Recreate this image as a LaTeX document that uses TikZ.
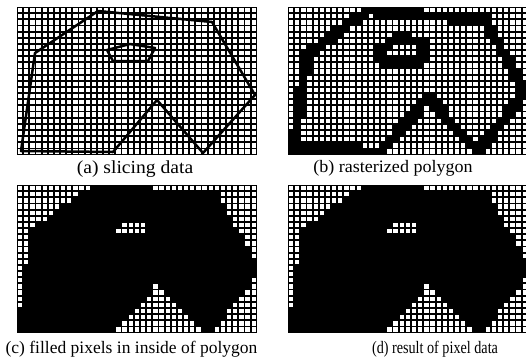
\documentclass[tikz,border=0pt]{standalone}
\usepackage{graphicx}
\usepackage{fontspec}
\setmainfont{Liberation Serif}
\def\pitch{6.15}
\def\offs{0.93}
\def\wsz{4.3}
\def\thr{0.4225}
\def\thrin{1.1025}
\def\rasteredges{13.2/0.35/32.3/2.0,32.3/2.0/38.8/13.9,38.8/13.9/30.9/23.8,30.9/23.8/22.8/15.1,22.8/15.1/15.2/23.6,15.2/23.6/0.6/23.4,0.6/23.4/2.9/7.4,2.9/7.4/13.2/0.35,14.9/7.2/17.8/5.2,17.8/5.2/22.1/6.1,22.1/6.1/21.5/8.9,21.5/8.9/15.7/8.9,15.7/8.9/14.9/7.2}
\tikzset{
  panelbg/.style={fill=black},
  cellw/.style={fill=white},
  poly/.style={draw=black,line width=2.5pt,line join=round},
  lbl/.style={font=\fontsize{17.5}{20}\selectfont,inner sep=0pt}
}
\begin{document}
\begin{tikzpicture}[x=1pt,y=-1pt]
\useasboundingbox[fill=white] (0,0) rectangle (526,360);
% panel backgrounds (grid lines)
\fill[panelbg] (17,7) rectangle ({17+39*\pitch},{7+24*\pitch});
\fill[panelbg] (288,7) rectangle ({288+39*\pitch},{7+24*\pitch});
\fill[panelbg] (17,185) rectangle ({17+39*\pitch},{185+24*\pitch});
\fill[panelbg] (288,185) rectangle ({288+39*\pitch},{185+24*\pitch});
% mark boundary cells
\foreach \ax/\ay/\bx/\by in \rasteredges {%
  \edef\cmin{\fpeval{max(0,floor(min(\ax,\bx))-2)}}%
  \edef\cmax{\fpeval{min(38,floor(max(\ax,\bx))+2)}}%
  \edef\rmin{\fpeval{max(0,floor(min(\ay,\by))-2)}}%
  \edef\rmax{\fpeval{min(23,floor(max(\ay,\by))+2)}}%
  \edef\sdx{\fpeval{\bx-\ax}}\edef\sdy{\fpeval{\by-\ay}}%
  \edef\il{\fpeval{1/((\sdx)*(\sdx)+(\sdy)*(\sdy))}}%
  \foreach \r in {\rmin,...,\rmax}{%
    \foreach \c in {\cmin,...,\cmax}{%
      \edef\tpar{\fpeval{max(0,min(1,((\c+0.5-\ax)*(\sdx)+(\r+0.5-\ay)*(\sdy))*(\il)))}}%
      \edef\dsq{\fpeval{(\c+0.5-\ax-(\tpar)*(\sdx))^2+(\r+0.5-\ay-(\tpar)*(\sdy))^2}}%
      \ifnum\fpeval{\dsq<\thr}=1
        \expandafter\gdef\csname bd@\r @\c\endcsname{}%
      \fi
      \ifnum\fpeval{\dsq<\thrin}=1
        \expandafter\gdef\csname bi@\r @\c\endcsname{}%
      \fi
    }%
  }%
}
% draw cells
\foreach \r in {0,...,23}{%
  \edef\py{\fpeval{\r+0.5}}%
  \let\px\relax
  \gdef\xs{0}%
  \foreach \ax/\ay/\bx/\by in \rasteredges{%
    \ifnum\fpeval{(\ay>\py)+(\by>\py)}=1
      \xdef\xs{\xs+(\px>\fpeval{(\bx-\ax)*(\py-\ay)/(\by-\ay)+\ax})}%
    \fi
  }%
  \foreach \c in {0,...,38}{%
    \edef\px{\fpeval{\c+0.5}}%
    \ifodd\fpeval{\xs}\relax\def\ins{1}\else\def\ins{0}\fi
    \fill[cellw] ({17+\c*\pitch+\offs},{7+\r*\pitch+\offs}) rectangle +(\wsz,\wsz);
    \ifcsname bd@\r @\c\endcsname\else
      \ifnum\ins=0
        \fill[cellw] ({288+\c*\pitch+\offs},{7+\r*\pitch+\offs}) rectangle +(\wsz,\wsz);
        \fill[cellw] ({17+\c*\pitch+\offs},{185+\r*\pitch+\offs}) rectangle +(\wsz,\wsz);
        \fill[cellw] ({288+\c*\pitch+\offs},{185+\r*\pitch+\offs}) rectangle +(\wsz,\wsz);
      \else
        \ifcsname bi@\r @\c\endcsname\else
          \fill[cellw] ({288+\c*\pitch+\offs},{7+\r*\pitch+\offs}) rectangle +(\wsz,\wsz);
        \fi
      \fi
    \fi
  }%
}
% slicing data polygon (a)
\draw[poly] (98,11) -- (212,22) -- (255,95) -- (203,153) -- (157,100) -- (113,152) -- (21,151) -- (35,53) -- cycle;
\draw[poly] (107,50) -- (130,44) -- (155,48) -- (148,61) -- (113,61) -- cycle;
% labels
\node[lbl] (la) at (135,169) {\scalebox{1.12}[1.05]{(a) slicing data}};
\node[lbl] (lb) at (393,168) {\scalebox{1.03}[1]{(b) rasterized polygon}};
\node[lbl] (lc) at (131.5,349) {(c) filled pixels in inside of polygon};
\node[lbl] (ld) at (435,349) {\scalebox{0.81}[1]{(d) result of pixel data}};
\end{tikzpicture}
\end{document}
